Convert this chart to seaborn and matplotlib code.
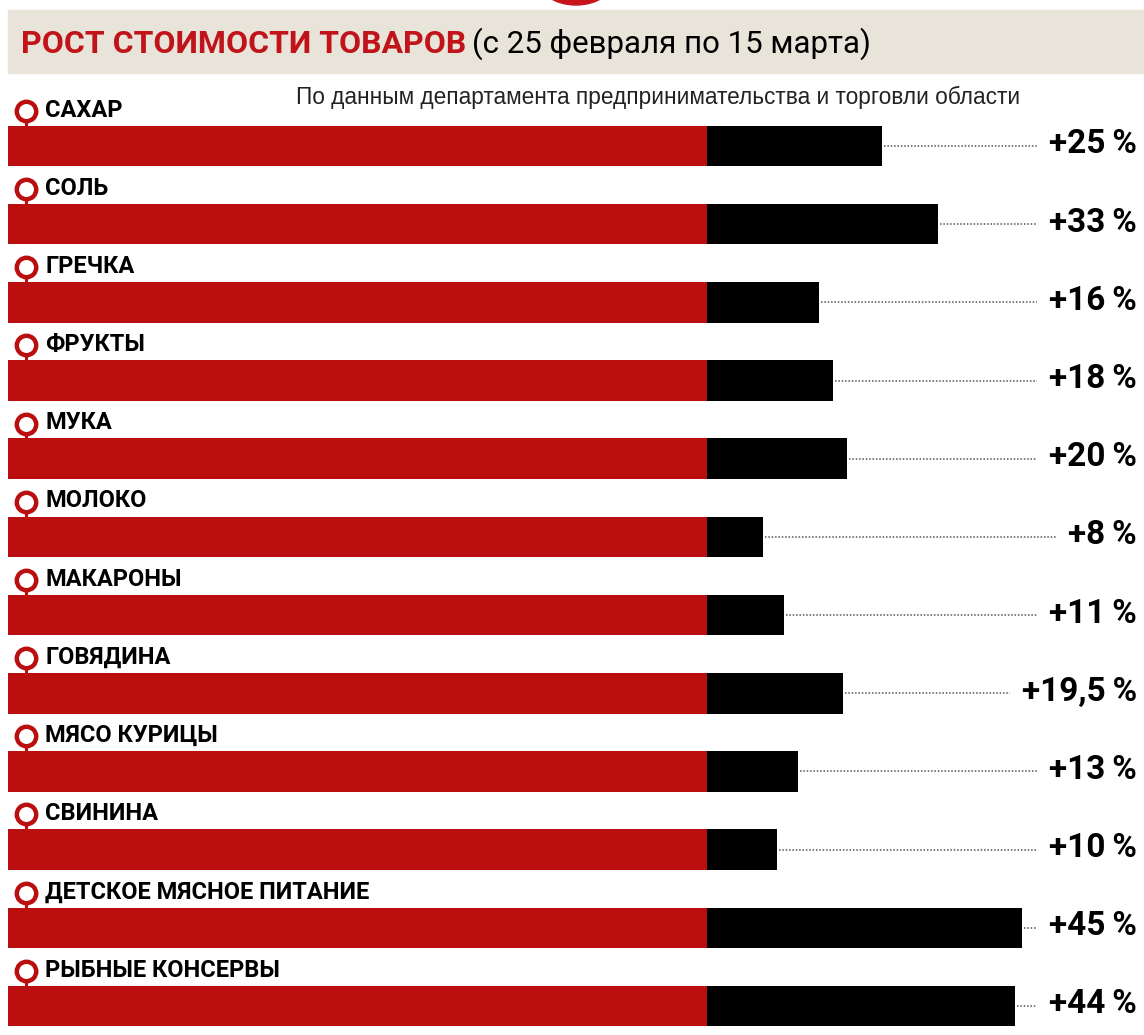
import numpy as np
import pandas as pd
import matplotlib
matplotlib.use('Agg')
import matplotlib.pyplot as plt
from matplotlib.patches import Rectangle, Ellipse
import seaborn as sns

# data
items = ['САХАР', 'СОЛЬ', 'ГРЕЧКА', 'ФРУКТЫ', 'МУКА', 'МОЛОКО', 'МАКАРОНЫ',
         'ГОВЯДИНА', 'МЯСО КУРИЦЫ', 'СВИНИНА', 'ДЕТСКОЕ МЯСНОЕ ПИТАНИЕ',
         'РЫБНЫЕ КОНСЕРВЫ']
growth = [25, 33, 16, 18, 20, 8, 11, 19.5, 13, 10, 45, 44]
base = [100] * len(items)   # price on 25 Feb = 100 %

title = 'РОСТ СТОИМОСТИ ТОВАРОВ'
period = '(с 25 февраля по 15 марта)'
source = 'По данным департамента предпринимательства и торговли области'

RED = '#bb0e0e'
TITLE_RED = '#c0131a'
W, H = 1144, 1035

sns.set_theme(style='white')
plt.rcParams['font.family'] = ['Roboto', 'DejaVu Sans']

df = pd.DataFrame({'item': items, 'base': base, 'growth': growth})
df['total'] = df['base'] + df['growth']
df['label'] = ['+' + ('%g' % g).replace('.', ',') + '\u2009%' for g in growth]


def fx(x):
    return x / W


def fy(y):
    return 1 - y / H


fig = plt.figure(figsize=(W / 100, H / 100), dpi=100)
fig.patch.set_facecolor('white')

# header band and the bit of logo peeking in at the top
fig.patches.append(Rectangle((fx(8), fy(73)), 1 - fx(8), fy(10) - fy(73),
                             transform=fig.transFigure, color='#e8e4d9', zorder=0))
fig.patches.append(Ellipse((fx(576), fy(-22)), fx(78), 54 / H,
                           transform=fig.transFigure, color='#c8141b', zorder=1))

# axes placed so that 1 unit = 6.99 px and rows are 78.2 px apart
ax = fig.add_axes([fx(8), fy(1033.4), 1 - fx(8), fy(75.6) - fy(1033.4)])
sns.barplot(data=df, x='total', y='item', color='black', saturation=1,
            width=0.52, linewidth=0, orient='h', ax=ax)
sns.barplot(data=df, x='base', y='item', color=RED, saturation=1,
            width=0.52, linewidth=0, orient='h', ax=ax)
ax.set_xlim(0, 1136 / 6.99)
ax.set_ylim(11.35, -0.9)
ax.axis('off')

# item names with red pin markers
for i, name in enumerate(items):
    yc = i - 0.45
    ax.plot([2.6, 2.6], [yc, i - 0.26], color=RED, lw=2.2, zorder=3,
            solid_capstyle='butt')
    ax.plot(2.6, yc, marker='o', ms=14, mfc='white', mec=RED, mew=3.2,
            zorder=4)
    ax.text(5.3, i - 0.46, name, fontsize=17, fontweight='bold',
            color='black', va='center', ha='left')

# value labels at the right edge
val_texts = []
for i, lab in enumerate(df['label']):
    t = ax.text(0.9938, i - 0.02, lab, transform=ax.get_yaxis_transform(),
                fontsize=24, fontweight='bold', color='black',
                va='center', ha='right')
    val_texts.append(t)

# header texts
t_title = fig.text(fx(21), fy(53), title, fontsize=23, fontweight='bold',
                   color=TITLE_RED, va='baseline', ha='left')
fig.canvas.draw()
r = fig.canvas.get_renderer()
bb = t_title.get_window_extent(r)
fig.text((bb.x1 + 6) / W, fy(53), period, fontsize=22.5, color='black',
         va='baseline', ha='left')
fig.text(fx(658), fy(97), source, fontsize=16.3, color='#222222',
         family=['Liberation Sans', 'DejaVu Sans'], va='center', ha='center')

# dotted leaders from the bar end to the value label
inv = ax.transData.inverted()
for i, t in enumerate(val_texts):
    bb = t.get_window_extent(r)
    x_end = inv.transform((bb.x0 - 12, 0))[0]
    x_start = df['total'][i] + 0.3
    ax.plot([x_start, x_end], [i, i], color='#555555', lw=1.1,
            linestyle=(0, (1, 1.2)), zorder=2)

fig.savefig('out.png', dpi=100)
